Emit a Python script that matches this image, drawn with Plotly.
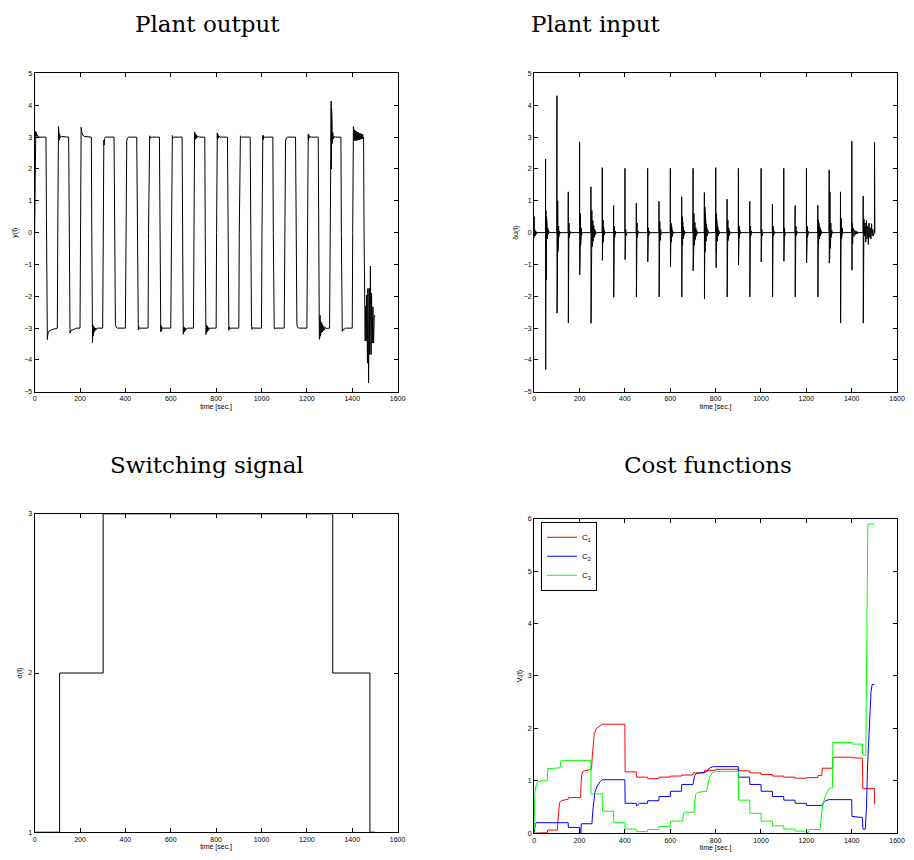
import plotly.graph_objects as go

# ---------------- data ----------------
# Plant output y(t): (time, value) samples
y_t = [0, 1, 2, 3, 5, 6, 8, 10, 13, 18, 50,
       52, 54, 56, 58, 62, 75, 95, 100,
       102, 104, 105, 106, 107, 108, 110, 113, 118, 150,
       152, 154, 156, 160, 170, 185, 200,
       202, 204, 205, 208, 212, 220, 250,
       252, 254, 255, 257, 258, 259, 260, 261, 262, 264, 266, 268, 271, 275, 300,
       302, 304, 305, 306, 308, 312, 350,
       352, 354, 356, 359, 365, 400,
       402, 404, 406, 409, 415, 450,
       452, 454, 456, 457, 459, 461, 465, 500,
       502, 504, 506, 507, 509, 512, 550,
       552, 554, 556, 557, 559, 561, 564, 568, 600,
       602, 604, 606, 607, 609, 613, 650,
       652, 654, 655, 656, 657, 658, 659, 661, 663, 666, 669, 673, 700,
       702, 704, 705, 706, 707, 708, 710, 712, 714, 717, 721, 726, 750,
       752, 754, 755, 756, 757, 758, 760, 762, 764, 767, 771, 776, 800,
       802, 804, 805, 806, 808, 810, 813, 817, 850,
       852, 854, 856, 858, 861, 865, 900,
       902, 904, 906, 907, 909, 913, 950,
       952, 954, 956, 958, 961, 966, 1000,
       1002, 1004, 1006, 1007, 1009, 1012, 1016, 1050,
       1052, 1054, 1056, 1058, 1062, 1100,
       1102, 1104, 1106, 1109, 1115, 1150,
       1152, 1154, 1156, 1159, 1165, 1200,
       1202, 1204, 1205, 1206, 1207, 1209, 1211, 1215, 1220, 1250,
       1252, 1254, 1255, 1256, 1257, 1258, 1259, 1260, 1261, 1262, 1264, 1266, 1268, 1270, 1272, 1275, 1278, 1282, 1287, 1300,
       1302, 1304, 1305, 1306, 1307, 1308, 1309, 1310, 1311, 1312, 1314, 1317, 1321, 1326, 1350,
       1352, 1354, 1356, 1359, 1362, 1370, 1400,
       1402, 1404, 1405, 1406, 1407, 1408, 1410, 1412, 1414, 1416, 1418, 1420, 1422, 1424, 1426, 1428, 1430, 1432, 1434, 1436, 1438, 1440, 1442, 1444, 1446, 1448, 1450,
       1452, 1455, 1457, 1459, 1462, 1464, 1467, 1469, 1472, 1475, 1477, 1480, 1483, 1485, 1488, 1491, 1494, 1497, 1500]
y_v = [0, 1.5, 2.6, 3.1, 3.18, 3.05, 3.12, 3.02, 3.06, 3.0, 3.0,
       0.5, -2.5, -3.36, -3.2, -3.1, -3.05, -3.0, -3.0,
       0, 2.45, 3.33, 2.6, 3.2, 2.9, 3.1, 2.98, 3.02, 3.0,
       0, -2.9, -3.16, -3.08, -3.04, -3.0, -3.0,
       0, 3.0, 3.31, 3.15, 3.06, 3.02, 3.0,
       0, -3.0, -3.45, -2.9, -3.25, -2.95, -3.18, -2.97, -3.13, -2.98, -3.08, -3.0, -3.05, -3.0, -3.0,
       0, 2.66, 2.9, 2.75, 2.95, 3.0, 3.0,
       0, -2.6, -2.88, -2.97, -3.0, -3.0,
       0, 2.6, 2.88, 2.97, 3.0, 3.0,
       0, -2.7, -2.9, -3.06, -2.95, -3.02, -3.0, -3.0,
       0, 2.8, 2.88, 3.04, 2.96, 3.0, 3.0,
       0, -2.8, -3.12, -2.92, -3.08, -2.97, -3.03, -3.0, -3.0,
       0, 2.8, 2.92, 3.05, 2.96, 3.0, 3.0,
       0, -2.9, -3.19, -2.95, -3.15, -2.97, -3.12, -2.98, -3.08, -3.0, -3.04, -3.0, -3.0,
       0, 2.85, 3.16, 2.9, 3.12, 2.93, 3.1, 2.96, 3.06, 2.99, 3.03, 3.0, 3.0,
       0, -2.85, -3.2, -2.88, -3.15, -2.9, -3.12, -2.94, -3.08, -2.98, -3.03, -3.0, -3.0,
       0, 2.85, 3.13, 2.92, 3.08, 2.97, 3.03, 3.0, 3.0,
       0, -2.9, -3.07, -2.96, -3.02, -3.0, -3.0,
       0, 2.85, 2.93, 3.04, 2.97, 3.0, 3.0,
       0, -2.8, -2.94, -3.04, -2.98, -3.0, -3.0,
       0, 2.85, 3.06, 2.92, 3.04, 2.98, 3.0, 3.0,
       0, -2.8, -2.95, -3.03, -3.0, -3.0,
       0, 2.6, 2.88, 2.97, 3.0, 3.0,
       0, -2.6, -2.88, -2.97, -3.0, -3.0,
       0, 2.6, 2.85, 3.1, 2.9, 3.06, 2.97, 3.02, 3.0, 3.0,
       0, -2.8, -3.35, -2.36, -3.3, -2.6, -3.25, -2.75, -3.2, -2.8, -3.15, -2.85, -3.12, -2.9, -3.08, -2.95, -3.05, -2.98, -3.01, -3.0,
       0, 1.83, 3.4, 1.85, 4.13, 2.0, 3.9, 2.5, 3.5, 2.8, 3.15, 2.95, 3.02, 3.0, 3.0,
       0, -2.9, -3.1, -3.02, -3.05, -3.0, -3.0,
       0, 2.85, 3.33, 2.88, 3.25, 2.9, 3.22, 2.88, 3.2, 2.9, 3.18, 2.9, 3.15, 2.9, 3.15, 2.92, 3.12, 2.92, 3.12, 2.93, 3.1, 2.94, 3.1, 2.94, 3.08, 2.96, 3.0,
       0, -2.3, -3.4, -2.3, -3.4, -1.96, -4.1, -1.75, -4.72, -1.75, -3.83, -1.05, -3.83, -1.9, -3.47, -2.33, -3.47, -2.6, -2.64]

# Plant input du(t): one spike per reference switch
spike_t = [0, 50, 100, 150, 200, 250, 300, 350, 400, 450, 500, 550, 600, 650, 700, 750,
           800, 850, 900, 950, 1000, 1050, 1100, 1150, 1200, 1250, 1300, 1350, 1400, 1450, 1500]
spike_hi = [0.5, 2.31, 4.3, 1.28, 2.85, 1.44, 2.04, 0.85, 2.02, 0.92, 2.02, 0.98, 2.02, 1.13, 2.02, 1.26,
            2.04, 1.05, 2.02, 0.98, 2.02, 0.9, 2.02, 0.85, 2.02, 0.86, 1.97, 1.28, 2.87, 1.15, 2.84]
spike_lo = [-0.15, -4.3, -2.53, -2.84, -1.33, -2.85, -0.87, -2.03, -0.85, -2.02, -0.92, -2.02, -1.07, -2.02, -1.2, -2.08,
            -0.95, -2.02, -1.02, -2.02, -0.92, -2.02, -0.9, -2.02, -0.95, -2.02, -0.96, -2.84, -1.18, -2.84, 0.0]
ring_dt = [2.0, 1.2, 1.0, 1.0, 1.0, 0.7, 1.0, 1.0, 1.0, 1.0, 1.0, 1.0, 1.0, 0.8, 0.7, 0.7,
           0.7, 1.0, 1.0, 1.0, 1.0, 1.0, 1.0, 1.0, 1.0, 0.7, 1.0, 1.0, 1.5, 2.8, 1.0]
ring_hi = [[0.1, 0.05],
           [0.69, 0.5, 0.3, 0.15, 0.1, 0.05],
           [2.04, 1.0, 0.4, 0.2, 0.1, 0.05],
           [0.54, 0.3, 0.1, 0.05],
           [1.28, 0.6, 0.3, 0.15, 0.05],
           [1.2, 0.9, 0.7, 0.55, 0.45, 0.38, 0.32, 0.27, 0.22, 0.18, 0.14, 0.11, 0.08, 0.06, 0.04, 0.03, 0.02],
           [1.25, 0.4, 0.2, 0.1, 0.05],
           [0.82, 0.2, 0.1, 0.05],
           [0.25, 0.1, 0.05],
           [0.85, 0.3, 0.1, 0.05],
           [0.3, 0.15, 0.08, 0.04],
           [0.9, 0.35, 0.2, 0.1, 0.05],
           [0.45, 0.3, 0.2, 0.12, 0.06, 0.03],
           [1.05, 0.5, 0.35, 0.25, 0.18, 0.12, 0.08, 0.05, 0.03],
           [1.2, 0.8, 0.6, 0.5, 0.4, 0.32, 0.25, 0.2, 0.15, 0.12, 0.09, 0.07, 0.05, 0.03, 0.02],
           [1.15, 0.8, 0.6, 0.45, 0.35, 0.27, 0.2, 0.15, 0.11, 0.08, 0.06, 0.04, 0.03, 0.02],
           [1.0, 0.6, 0.45, 0.35, 0.27, 0.2, 0.15, 0.11, 0.08, 0.06, 0.04, 0.03, 0.02],
           [0.95, 0.4, 0.25, 0.15, 0.1, 0.06, 0.03],
           [0.4, 0.2, 0.1, 0.05],
           [0.9, 0.2, 0.1, 0.05],
           [0.25, 0.1, 0.05],
           [0.85, 0.2, 0.1, 0.05],
           [0.3, 0.15, 0.08],
           [0.8, 0.2, 0.1, 0.05],
           [0.35, 0.2, 0.1, 0.05],
           [0.8, 0.4, 0.32, 0.27, 0.22, 0.18, 0.15, 0.12, 0.09, 0.07, 0.05, 0.03, 0.02],
           [1.55, 1.28, 0.55, 0.3, 0.15, 0.08],
           [0.48, 0.45, 0.3, 0.15, 0.08],
           [0.3, 0.15, 0.1, 0.08, 0.05, 0.05, 0.04, 0.03],
           [0.43, 0.3, 0.38, 0.2, 0.3, 0.15, 0.28, 0.1],
           []]
ring_lo = [[-0.1, -0.05],
           [-1.49, -0.6, -0.2, -0.1, -0.05, -0.03],
           [-1.4, -0.6, -0.3, -0.15, -0.05, -0.03],
           [-0.25, -0.15, -0.05, -0.02],
           [-0.76, -0.4, -0.2, -0.1, -0.03],
           [-0.55, -0.5, -0.45, -0.38, -0.32, -0.27, -0.22, -0.18, -0.15, -0.12, -0.1, -0.08, -0.06, -0.04, -0.03, -0.02, -0.01],
           [-0.8, -0.3, -0.15, -0.08, -0.03],
           [-0.4, -0.15, -0.07, -0.03],
           [-0.3, -0.1, -0.05],
           [-0.3, -0.15, -0.05, -0.02],
           [-0.2, -0.1, -0.05, -0.02],
           [-0.5, -0.25, -0.12, -0.06, -0.02],
           [-0.55, -0.3, -0.2, -0.12, -0.06, -0.03],
           [-0.6, -0.4, -0.3, -0.2, -0.14, -0.1, -0.06, -0.04, -0.02],
           [-0.6, -0.5, -0.4, -0.33, -0.27, -0.22, -0.18, -0.14, -0.11, -0.08, -0.06, -0.04, -0.03, -0.02, -0.01],
           [-0.9, -0.6, -0.45, -0.35, -0.27, -0.2, -0.15, -0.11, -0.08, -0.06, -0.04, -0.03, -0.02, -0.01],
           [-1.1, -0.6, -0.45, -0.35, -0.27, -0.2, -0.15, -0.11, -0.08, -0.06, -0.04, -0.03, -0.02],
           [-0.4, -0.25, -0.15, -0.1, -0.06, -0.03, -0.02],
           [-0.3, -0.15, -0.07, -0.03],
           [-0.3, -0.1, -0.05, -0.02],
           [-0.2, -0.1, -0.05],
           [-0.25, -0.1, -0.05, -0.02],
           [-0.2, -0.1, -0.04],
           [-0.3, -0.1, -0.05, -0.02],
           [-0.3, -0.15, -0.08, -0.03],
           [-0.4, -0.35, -0.3, -0.25, -0.2, -0.16, -0.13, -0.1, -0.08, -0.06, -0.04, -0.03, -0.02],
           [-0.8, -0.5, -0.3, -0.15, -0.08, -0.03],
           [-0.1, -0.2, -0.1, -0.05, -0.02],
           [-0.35, -0.2, -0.12, -0.08, -0.06, -0.05, -0.04, -0.03],
           [-0.1, -0.3, -0.2, -0.37, -0.15, -0.2, -0.1, -0.1],
           []]

# Switching signal sigma(t)
sw_t = [0, 110, 302, 1314, 1478, 1500]
sw_v = [1, 2, 3, 2, 1, 1]

# Cost functions
c1_t = [0, 58, 60, 103, 105, 108, 112, 120, 150, 152, 205, 207, 210, 215, 253, 256, 260, 265, 275, 290, 300,
        400, 401, 450, 451, 500, 501, 550, 551, 600, 601, 650, 651, 700, 701, 750, 751, 800, 801, 900, 901,
        950, 951, 1000, 1001, 1050, 1051, 1100, 1101, 1150, 1151, 1200, 1201, 1250, 1251, 1268, 1270,
        1316, 1318, 1400, 1401, 1447, 1449, 1500, 1501]
c1_v = [0.0, 0.01, 0.06, 0.06, 0.25, 0.48, 0.58, 0.62, 0.65, 0.68, 0.68, 0.95, 1.12, 1.18, 1.22, 1.45, 1.72, 1.9, 2.0, 2.05, 2.08,
        2.08, 1.17, 1.17, 1.07, 1.07, 1.04, 1.04, 1.07, 1.07, 1.09, 1.09, 1.11, 1.11, 1.15, 1.15, 1.2, 1.2, 1.22, 1.22, 1.19,
        1.19, 1.15, 1.15, 1.12, 1.12, 1.09, 1.09, 1.07, 1.07, 1.05, 1.05, 1.06, 1.06, 1.1, 1.1, 1.24,
        1.24, 1.45, 1.45, 1.44, 1.43, 0.85, 0.85, 0.55]
c2_t = [0, 2, 5, 10, 150, 151, 201, 202, 206, 208, 255, 258, 262, 268, 278, 290, 300, 400, 401, 450, 452, 458, 465,
        500, 501, 550, 551, 600, 601, 650, 651, 700, 703, 708, 715, 750, 760, 765, 775, 790, 900, 901, 950, 951,
        1000, 1001, 1050, 1051, 1100, 1101, 1150, 1151, 1200, 1201, 1270, 1275, 1285, 1300, 1400, 1401, 1447,
        1449, 1452, 1460, 1465, 1470, 1478, 1485, 1490, 1500]
c2_v = [0.0, 0.1, 0.17, 0.2, 0.2, 0.11, 0.11, 0.01, 0.01, 0.18, 0.18, 0.4, 0.62, 0.78, 0.9, 0.98, 1.02, 1.02, 0.57, 0.57, 0.52, 0.54, 0.57,
        0.57, 0.62, 0.62, 0.7, 0.7, 0.8, 0.8, 0.93, 0.93, 1.02, 1.1, 1.14, 1.16, 1.17, 1.2, 1.25, 1.27, 1.27, 1.07, 1.07, 0.93,
        0.93, 0.8, 0.8, 0.7, 0.7, 0.63, 0.63, 0.57, 0.57, 0.53, 0.53, 0.58, 0.62, 0.64, 0.64, 0.32, 0.3,
        0.1, 0.07, 0.08, 0.5, 1.3, 2.2, 2.7, 2.84, 2.84]
c3_t = [0, 1, 3, 8, 15, 25, 58, 60, 115, 117, 125, 250, 251, 300, 301, 350, 351, 400, 401, 450, 451, 500, 501,
        550, 551, 600, 601, 655, 658, 665, 705, 708, 712, 720, 760, 765, 772, 785, 800, 900, 901, 950, 951,
        1000, 1001, 1050, 1051, 1100, 1101, 1150, 1151, 1200, 1201, 1210, 1212, 1260, 1265, 1272, 1285, 1300,
        1315, 1317, 1400, 1401, 1447, 1448, 1462, 1465, 1468, 1471, 1500]
c3_v = [0.0, 0.5, 0.75, 0.9, 0.97, 1.0, 1.0, 1.23, 1.25, 1.37, 1.39, 1.39, 0.75, 0.75, 0.42, 0.42, 0.2, 0.2, 0.08, 0.08, 0.03, 0.03, 0.07,
        0.07, 0.13, 0.13, 0.23, 0.23, 0.38, 0.4, 0.4, 0.6, 0.74, 0.78, 0.8, 0.9, 1.05, 1.15, 1.18, 1.18, 0.63, 0.63, 0.38,
        0.38, 0.23, 0.23, 0.14, 0.14, 0.08, 0.08, 0.04, 0.04, 0.01, 0.02, 0.07, 0.07, 0.3, 0.55, 0.72, 0.85,
        0.87, 1.73, 1.73, 1.7, 1.7, 1.49, 1.49, 3.0, 5.0, 5.9, 5.9]

x_ticks = [0, 200, 400, 600, 800, 1000, 1200, 1400, 1600]

# ---------------- build du(t) polyline from spike table ----------------
du_t, du_v = [], []
for k, ts in enumerate(spike_t):
    du_t += [ts, ts + 0.5, ts + 1.0]
    du_v += [0, spike_hi[k], spike_lo[k]]
    t = ts + 1.0
    for a, b in zip(ring_hi[k], ring_lo[k]):
        t += ring_dt[k]
        du_t.append(t); du_v.append(a)
        t += ring_dt[k]
        du_t.append(t); du_v.append(b)
    du_t.append(t + ring_dt[k]); du_v.append(0)

# ---------------- figure ----------------
W, H = 914, 860
fig = go.Figure()
fig.add_trace(go.Scatter(x=y_t, y=y_v, mode="lines", line=dict(color="black", width=1),
                         xaxis="x", yaxis="y", showlegend=False))
fig.add_trace(go.Scatter(x=du_t, y=du_v, mode="lines", line=dict(color="black", width=1),
                         xaxis="x2", yaxis="y2", showlegend=False))
fig.add_trace(go.Scatter(x=sw_t, y=sw_v, mode="lines", line=dict(color="black", width=1, shape="hv"),
                         xaxis="x3", yaxis="y3", showlegend=False))
fig.add_trace(go.Scatter(x=c1_t, y=c1_v, mode="lines", line=dict(color="#ff0000", width=1),
                         xaxis="x4", yaxis="y4", name="C<sub>1</sub>"))
fig.add_trace(go.Scatter(x=c2_t, y=c2_v, mode="lines", line=dict(color="#0000ff", width=1),
                         xaxis="x4", yaxis="y4", name="C<sub>2</sub>"))
fig.add_trace(go.Scatter(x=c3_t, y=c3_v, mode="lines", line=dict(color="#00ff00", width=1),
                         xaxis="x4", yaxis="y4", name="C<sub>3</sub>"))

tick_font = dict(family="Liberation Sans, Arial, sans-serif", size=7, color="black")


def ax(domain, rng, tickvals, title, anchor, standoff):
    return dict(domain=domain, range=rng, tickvals=tickvals, anchor=anchor,
                showline=True, linecolor="black", linewidth=1, mirror="ticks",
                ticks="inside", ticklen=4, tickwidth=1, tickcolor="black",
                showgrid=False, zeroline=False, tickfont=tick_font,
                title=dict(text=title, font=tick_font, standoff=standoff))


xl = [33 / W, 400 / W]
xr = [538 / W, 905 / W]
yt = [1 - 391 / H, 1 - 70 / H]
ybl = [1 - 835 / H, 1 - 514 / H]
ybr = [1 - 836 / H, 1 - 519 / H]

fig.update_layout(
    width=W, height=H, margin=dict(l=0, r=0, t=0, b=0),
    paper_bgcolor="white", plot_bgcolor="white",
    xaxis=ax(xl, [0, 1600], x_ticks, "time [sec.]", "y", 2),
    yaxis=ax(yt, [-5, 5], [-5, -4, -3, -2, -1, 0, 1, 2, 3, 4, 5], "y(t)", "x", 5),
    xaxis2=ax(xr, [0, 1600], x_ticks, "time [sec.]", "y2", 2),
    yaxis2=ax(yt, [-5, 5], [-5, -4, -3, -2, -1, 0, 1, 2, 3, 4, 5], "δu(t)", "x2", 4),
    xaxis3=ax(xl, [0, 1600], x_ticks, "time [sec.]", "y3", 2),
    yaxis3=ax(ybl, [1, 3], [1, 2, 3], "σ(t)", "x3", 4),
    xaxis4=ax(xr, [0, 1600], x_ticks, "time [sec.]", "y4", 2),
    yaxis4=ax(ybr, [0, 6], [0, 1, 2, 3, 4, 5, 6], "V<sub>i</sub>(t)", "x4", 4),
    legend=dict(x=545 / W, y=1 - 522 / H, xanchor="left", yanchor="top",
                bordercolor="black", borderwidth=1, bgcolor="white",
                font=dict(family="Liberation Sans, Arial, sans-serif", size=8, color="black"),
                itemwidth=30, tracegroupgap=0),
)

title_font = dict(family="DejaVu Serif, serif", size=23, color="black")
for txt, xc, yc in [("Plant output", 208, 20), ("Plant input", 601, 20),
                    ("Switching signal", 207, 465), ("Cost functions", 714, 465)]:
    fig.add_annotation(text=txt, x=xc / W, y=1 - yc / H, xref="paper", yref="paper",
                       xanchor="center", yanchor="middle", showarrow=False, font=title_font)

fig.write_html("out.html")
